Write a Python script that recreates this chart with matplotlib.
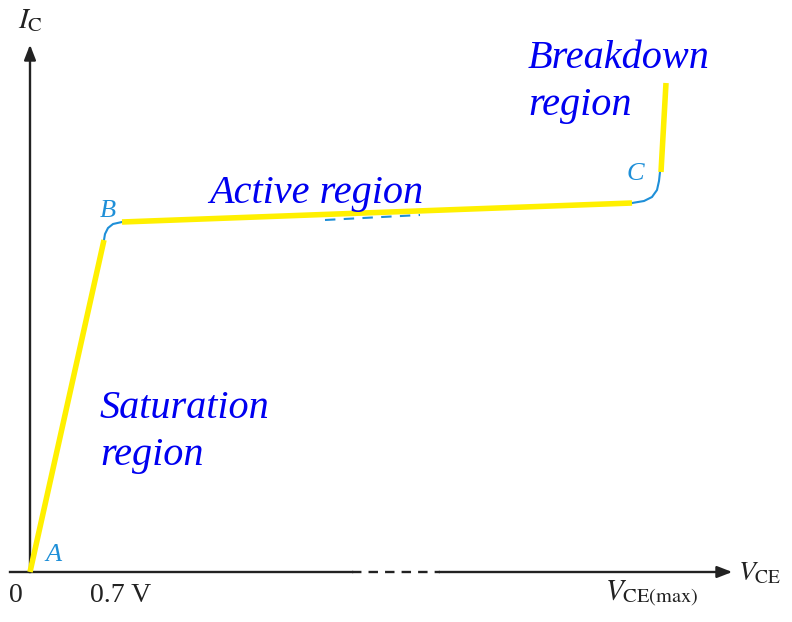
import matplotlib.pyplot as plt

plt.rcParams["mathtext.fontset"] = "stix"

# transistor output characteristic (schematic units, origin at axes crossing)
sat_v = [0, 74]
sat_i = [0, 332]
knee_b_v = [74, 75, 78, 83, 92]
knee_b_i = [332, 338, 344, 348, 350]
active_v = [92, 602]
active_i = [350, 369]
hidden_v = [295, 390]
hidden_i = [352, 357]
knee_c_v = [602, 614, 622, 627, 629, 630]
knee_c_i = [369, 371, 375, 382, 391, 400]
brk_v = [631, 636]
brk_i = [400, 489]

x_axis_end = 705
y_axis_end = 530
gap = (322, 410)

yellow = "#FFF000"
lblue = "#1E8FD8"
blue = "#0000F0"
ink = "#222222"
serif = "Liberation Serif"

fig = plt.figure(figsize=(7.92, 6.22), dpi=100)
ax = fig.add_axes([0, 0, 1, 1])
ax.set_xlim(-30, 762)
ax.set_ylim(-50, 572)
ax.axis("off")

# axes
ax.plot([-20, gap[0]], [0, 0], color=ink, lw=1.7)
ax.plot([gap[0], gap[1]], [0, 0], color=ink, lw=1.7, ls=(0, (4, 3)))
ax.plot([gap[1], x_axis_end - 10], [0, 0], color=ink, lw=1.7)
ax.annotate("", xy=(x_axis_end, 0), xytext=(x_axis_end - 12, 0),
            arrowprops=dict(arrowstyle="-|>,head_length=0.9,head_width=0.35",
                            color=ink, lw=1.7))
ax.plot([0, 0], [0, y_axis_end - 10], color=ink, lw=1.7)
ax.annotate("", xy=(0, y_axis_end), xytext=(0, y_axis_end - 12),
            arrowprops=dict(arrowstyle="-|>,head_length=0.9,head_width=0.35",
                            color=ink, lw=1.7))

# curve
ax.plot(knee_b_v, knee_b_i, color=lblue, lw=1.5)
ax.plot(knee_c_v, knee_c_i, color=lblue, lw=1.5)
ax.plot(hidden_v, hidden_i, color=lblue, lw=1.5, ls=(0, (5, 4)))
for v, i in [(sat_v, sat_i), (active_v, active_i), (brk_v, brk_i)]:
    ax.plot(v, i, color=yellow, lw=4, solid_capstyle="butt")

# point labels
for s, x, y in [("A", 23, 17), ("B", 78, 361), ("C", 605, 398)]:
    ax.text(x, y, s, color=lblue, fontsize=19, style="italic", family=serif,
            ha="center", va="center")

# region labels
ax.text(286, 379, "Active region", color=blue, fontsize=29, style="italic",
        family=serif, ha="center", va="center")
ax.text(70, 140, "Saturation\nregion", color=blue, fontsize=29, style="italic",
        family=serif, ha="left", va="center", linespacing=1.38)
ax.text(498, 490, "Breakdown\nregion", color=blue, fontsize=29, style="italic",
        family=serif, ha="left", va="center", linespacing=1.38)

# axis labels
ax.text(-14, -23, "0", fontsize=20, family=serif, color=ink, ha="center", va="center")
ax.text(91, -23, "0.7 V", fontsize=20, family=serif, color=ink, ha="center", va="center")
ax.text(575, -28, r"$V_{\mathrm{CE(max)}}$", fontsize=21, color=ink)
ax.text(708, -8, r"$V_{\mathrm{CE}}$", fontsize=20, color=ink)
ax.text(-12, 544, r"$I_{\mathrm{C}}$", fontsize=21, color=ink)

fig.savefig("out.png", dpi=100)
